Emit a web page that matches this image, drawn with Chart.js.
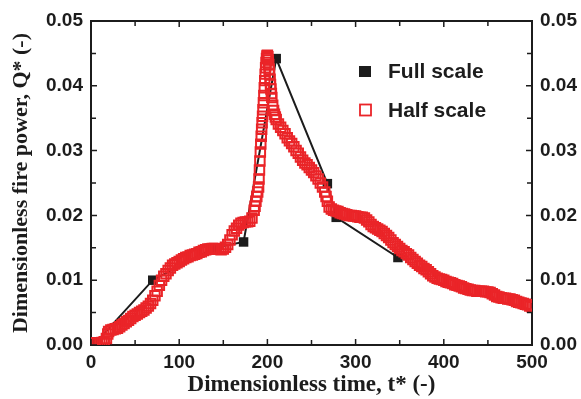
<!DOCTYPE html>
<html>
<head>
<meta charset="utf-8">
<script src="https://cdn.jsdelivr.net/npm/chart.js@4"></script>
<style>
  html, body { margin: 0; padding: 0; background: #fff; }
  canvas { display: block; }
</style>
</head>
<body>
<canvas id="fireChart" width="581" height="399"></canvas>
<script>
// Full scale test (black squares joined by a line)
const fullTime = [5, 70, 140, 173, 210, 268, 278, 348];
const fullQ = [0.0003, 0.0100, 0.0150, 0.0159, 0.0442, 0.0249, 0.0197, 0.0135];

// Half scale test (red open squares)
const halfTime = [
    0, 2.5, 5, 7.5, 10, 12.5, 15, 17.5, 19, 20,
    22.5, 25, 27.5, 30, 32.5, 35, 37.5, 40, 42.5, 45,
    47.5, 50, 52.5, 55, 57.5, 60, 62.5, 65, 67.5, 70,
    72.5, 75, 77.5, 80, 82.5, 85, 87.5, 90, 92.5, 95,
    97.5, 100, 102.5, 105, 107.5, 110, 112.5, 115, 117.5, 120,
    122.5, 125, 127.5, 130, 132.5, 135, 137.5, 140, 142.5, 145,
    147.5, 150, 152.5, 155, 157.5, 160, 162.5, 165, 167.5, 170,
    172.5, 175, 177.5, 180, 182.5, 185, 186, 187, 188, 189,
    190, 190.5, 191, 191.5, 192, 192.5, 193, 193.5, 194, 194.5,
    195, 195.5, 196, 196.5, 197, 197.5, 198, 198.5, 199, 199.5,
    200, 200.5, 201, 201.5, 202, 202.5, 203, 203.5, 204, 204.5,
    205, 206, 207, 208, 209, 210, 212.5, 215, 217.5, 220,
    222.5, 225, 227.5, 230, 232.5, 235, 237.5, 240, 242.5, 245,
    247.5, 250, 252.5, 255, 257.5, 260, 262.5, 265, 266.5, 268,
    270, 272.5, 275, 277.5, 280, 282.5, 285, 287.5, 290, 292.5,
    295, 297.5, 300, 302.5, 305, 307.5, 310, 312.5, 315, 317.5,
    320, 322.5, 325, 327.5, 330, 332.5, 335, 337.5, 340, 342.5,
    345, 347.5, 350, 352.5, 355, 357.5, 360, 362.5, 365, 367.5,
    370, 372.5, 375, 377.5, 380, 382.5, 385, 387.5, 390, 392.5,
    395, 397.5, 400, 402.5, 405, 407.5, 410, 412.5, 415, 417.5,
    420, 422.5, 425, 427.5, 430, 432.5, 435, 437.5, 440, 442.5,
    445, 447.5, 450, 452.5, 455, 457.5, 460, 462.5, 465, 467.5,
    470, 472.5, 475, 477.5, 480, 482.5, 485, 487.5, 490, 492.5,
    495, 497.5, 500
];
const halfQ = [
    .0003, .0003, .0003, .0003, .0003, .0004, .0005, .0010, .0017, .0021,
    .0023, .0024, .0025, .0026, .0028, .0031, .0033, .0036, .0038, .0041,
    .0044, .0046, .0048, .0050, .0052, .0054, .0057, .0060, .0064, .0069,
    .0076, .0083, .0092, .0100, .0106, .0110, .0115, .0119, .0123, .0125,
    .0127, .0129, .0131, .0133, .0135, .0136, .0138, .0139, .0140, .0141,
    .0143, .0144, .0146, .0147, .0148, .0148, .0149, .0149, .0148, .0148,
    .0147, .0148, .0151, .0155, .0162, .0170, .0176, .0180, .0185, .0188,
    .0189, .0190, .0190, .0191, .0196, .0208, .0214, .0222, .0229, .0236,
    .0244, .0256, .0270, .0284, .0298, .0310, .0322, .0333, .0343, .0353,
    .0363, .0374, .0385, .0397, .0408, .0418, .0428, .0436, .0442, .0446,
    .0447, .0445, .0440, .0433, .0425, .0418, .0410, .0402, .0395, .0388,
    .0382, .0370, .0362, .0356, .0352, .0348, .0341, .0336, .0331, .0326,
    .0320, .0315, .0311, .0306, .0300, .0296, .0290, .0285, .0281, .0278,
    .0274, .0270, .0266, .0261, .0256, .0250, .0244, .0236, .0229, .0222,
    .0213, .0210, .0208, .0207, .0206, .0204, .0203, .0202, .0201, .0200,
    .0200, .0199, .0199, .0198, .0197, .0197, .0196, .0193, .0190, .0186,
    .0183, .0181, .0179, .0177, .0175, .0172, .0169, .0166, .0162, .0158,
    .0155, .0152, .0149, .0146, .0144, .0141, .0139, .0135, .0132, .0129,
    .0126, .0123, .0121, .0118, .0116, .0113, .0110, .0107, .0105, .0103,
    .0102, .0101, .0100, .0098, .0097, .0096, .0095, .0093, .0092, .0091,
    .0090, .0088, .0087, .0086, .0085, .0084, .0084, .0083, .0083, .0083,
    .0083, .0082, .0082, .0081, .0079, .0077, .0075, .0074, .0073, .0072,
    .0072, .0071, .0071, .0070, .0069, .0067, .0066, .0065, .0064, .0063,
    .0062, .0060, .0059
];

// Axis ranges / ticks
const xRange = [0, 500];
const yRange = [0, 0.05];
const xMajor = 100, xMinor = 50;
const yMajor = 0.01, yMinor = 0.005;

const seriesLabels = ['Full scale', 'Half scale'];
const xTitle = 'Dimensionless time, t* (-)';
const yTitle = 'Dimensionless fire power, Q* (-)';

const INK = '#1c1c1c';
const RED = '#ea2428';
const SANS = '"Liberation Sans", Arial, sans-serif';
const SERIF = '"Liberation Serif", "Times New Roman", serif';

Chart.defaults.font.family = SANS;
Chart.defaults.color = INK;

const tickFont = { family: SANS, size: 19, weight: 'bold' };

// inward ticks on all four sides
const innerTicks = {
    id: 'innerTicks',
    afterDatasetsDraw(chart) {
        const { ctx, chartArea: a, scales } = chart;
        ctx.save();
        ctx.strokeStyle = INK;
        ctx.lineWidth = 1.5;
        ctx.beginPath();
        for (let v = xRange[0]; v <= xRange[1]; v += xMinor) {
            const px = scales.x.getPixelForValue(v);
            const len = v % xMajor === 0 ? 6 : 5;
            ctx.moveTo(px, a.bottom); ctx.lineTo(px, a.bottom - len);
            ctx.moveTo(px, a.top); ctx.lineTo(px, a.top + len);
        }
        const n = Math.round((yRange[1] - yRange[0]) / yMinor);
        for (let i = 0; i <= n; i++) {
            const py = scales.y.getPixelForValue(yRange[0] + i * yMinor);
            const len = i % 2 === 0 ? 6 : 5;
            ctx.moveTo(a.left, py); ctx.lineTo(a.left + len, py);
            ctx.moveTo(a.right, py); ctx.lineTo(a.right - len, py);
        }
        ctx.stroke();
        ctx.restore();
    }
};

// legend inside the plot, top right
const insideLegend = {
    id: 'insideLegend',
    afterDraw(chart) {
        const { ctx } = chart;
        ctx.save();
        ctx.fillStyle = INK;
        ctx.fillRect(359, 66, 12, 11);
        ctx.strokeStyle = RED;
        ctx.lineWidth = 1.8;
        ctx.strokeRect(360, 104.5, 11, 11);
        ctx.font = 'bold 21px ' + SANS;
        ctx.textBaseline = 'middle';
        ctx.fillStyle = INK;
        ctx.fillText(seriesLabels[0], 388, 72);
        ctx.fillText(seriesLabels[1], 388, 111);
        ctx.restore();
    }
};

const ctx = document.getElementById('fireChart');

new Chart(ctx, {
    type: 'scatter',
    data: {
        datasets: [{
            label: seriesLabels[0],
            data: fullTime.map((t, i) => ({ x: t, y: fullQ[i] })),
            showLine: true,
            borderColor: INK,
            borderWidth: 2,
            pointStyle: 'rect',
            pointRadius: 6.7,
            pointBackgroundColor: INK,
            pointBorderColor: INK,
            pointBorderWidth: 0,
            order: 1
        }, {
            label: seriesLabels[1],
            data: halfTime.map((t, i) => ({ x: t, y: halfQ[i] })),
            showLine: false,
            pointStyle: 'rect',
            pointRadius: 6.7,
            pointBackgroundColor: 'rgba(255,255,255,0)',
            pointBorderColor: RED,
            pointBorderWidth: 2,
            order: 0
        }]
    },
    options: {
        responsive: false,
        devicePixelRatio: 1,
        animation: false,
        layout: { padding: 0 },
        plugins: {
            legend: { display: false },
            tooltip: { enabled: false }
        },
        scales: {
            x: {
                type: 'linear',
                position: 'bottom',
                min: xRange[0],
                max: xRange[1],
                ticks: { stepSize: xMajor, padding: 6, font: tickFont, color: INK, maxRotation: 0 },
                grid: { display: false, drawTicks: false },
                border: { display: true, color: INK, width: 2 },
                title: {
                    display: true, text: xTitle, color: INK,
                    font: { family: SERIF, size: 23, weight: 'bold' },
                    padding: { top: 0, bottom: 0 }
                },
                afterFit: (s) => { s.height = 54; }
            },
            x2: {
                type: 'linear',
                position: 'top',
                min: xRange[0],
                max: xRange[1],
                ticks: { display: false },
                grid: { display: false, drawTicks: false },
                border: { display: true, color: INK, width: 2 },
                afterFit: (s) => { s.height = 21; }
            },
            y: {
                type: 'linear',
                position: 'left',
                min: yRange[0],
                max: yRange[1],
                ticks: { stepSize: yMajor, padding: 8, font: tickFont, color: INK, callback: (v) => v.toFixed(2) },
                grid: { display: false, drawTicks: false },
                border: { display: true, color: INK, width: 2 },
                title: {
                    display: true, text: yTitle, color: INK,
                    font: { family: SERIF, size: 22, weight: 'bold' },
                    padding: { top: 8, bottom: 0 }
                },
                afterFit: (s) => { s.width = 91; }
            },
            y2: {
                type: 'linear',
                position: 'right',
                min: yRange[0],
                max: yRange[1],
                ticks: { stepSize: yMajor, padding: 8, font: tickFont, color: INK, callback: (v) => v.toFixed(2) },
                grid: { display: false, drawTicks: false },
                border: { display: true, color: INK, width: 2 },
                afterFit: (s) => { s.width = 49; }
            }
        }
    },
    plugins: [innerTicks, insideLegend]
});
</script>
</body>
</html>
